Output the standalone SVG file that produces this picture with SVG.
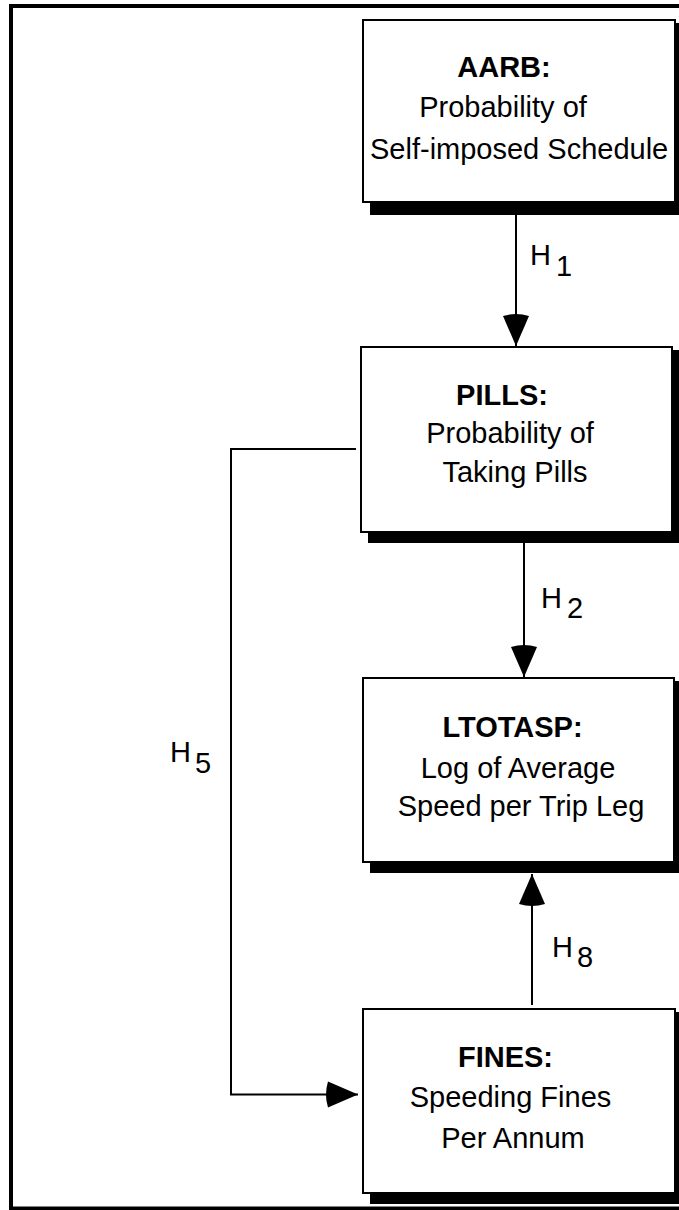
<svg xmlns="http://www.w3.org/2000/svg" width="679" height="1210" viewBox="0 0 679 1210">
<style>
.box{fill:#fff;stroke:#000;stroke-width:2}
.shadow{fill:#000}
.t{font-family:"Liberation Sans",Arial,sans-serif;font-size:29px;fill:#000}
.b{font-weight:bold}
.c{stroke:#000;stroke-width:2;fill:none}
</style>
<defs>
<marker id="arr" viewBox="0 0 34 26" refX="33" refY="13" markerWidth="34" markerHeight="26" markerUnits="userSpaceOnUse" orient="auto" overflow="visible">
<path d="M3,0 L33,13 L3,26 Q-1,13 3,0 Z" fill="#000"/>
</marker>
</defs>
<rect x="0" y="0" width="679" height="1210" fill="#fff"/>
<rect x="11" y="6" width="680" height="1202.5" fill="none" stroke="#000" stroke-width="4"/>
<g id="connectors">
<line class="c" x1="516" y1="214" x2="516" y2="346" marker-end="url(#arr)"/>
<line class="c" x1="524" y1="543" x2="524" y2="677" marker-end="url(#arr)"/>
<line class="c" x1="532" y1="1005" x2="532" y2="874" marker-end="url(#arr)"/>
<polyline class="c" points="356,449 231,449 231,1094.5 358,1094.5" marker-end="url(#arr)"/>
<g class="t">
<text x="530" y="265">H</text><text x="556" y="276">1</text>
<text x="541" y="608">H</text><text x="567" y="618">2</text>
<text x="170" y="762">H</text><text x="195" y="773">5</text>
<text x="552" y="957">H</text><text x="577" y="967">8</text>
</g>
</g>
<g id="aarb">
<rect class="shadow" x="370" y="23" width="312" height="192"/>
<rect class="box" x="363" y="20" width="312" height="182"/>
<text class="t b" x="504" y="77" text-anchor="middle">AARB:</text>
<text class="t" x="503" y="117" text-anchor="middle">Probability of</text>
<text class="t" x="370" y="159">Self-imposed Schedule</text>
</g>
<g id="pills">
<rect class="shadow" x="368" y="350" width="311" height="193"/>
<rect class="box" x="361" y="347" width="311" height="185"/>
<text class="t b" x="502" y="405" text-anchor="middle">PILLS:</text>
<text class="t" x="510" y="443" text-anchor="middle">Probability of</text>
<text class="t" x="515" y="482" text-anchor="middle">Taking Pills</text>
</g>
<g id="ltotasp">
<rect class="shadow" x="370" y="681" width="311" height="192"/>
<rect class="box" x="363" y="678" width="311" height="184"/>
<text class="t b" x="512.5" y="737" text-anchor="middle">LTOTASP:</text>
<text class="t" x="518" y="778" text-anchor="middle">Log of Average</text>
<text class="t" x="521" y="816" text-anchor="middle">Speed per Trip Leg</text>
</g>
<g id="fines">
<rect class="shadow" x="370" y="1012" width="312" height="192"/>
<rect class="box" x="363" y="1009" width="312" height="184"/>
<text class="t b" x="505.5" y="1067" text-anchor="middle">FINES:</text>
<text class="t" x="510.5" y="1107" text-anchor="middle">Speeding Fines</text>
<text class="t" x="513" y="1148" text-anchor="middle">Per Annum</text>
</g>
</svg>
